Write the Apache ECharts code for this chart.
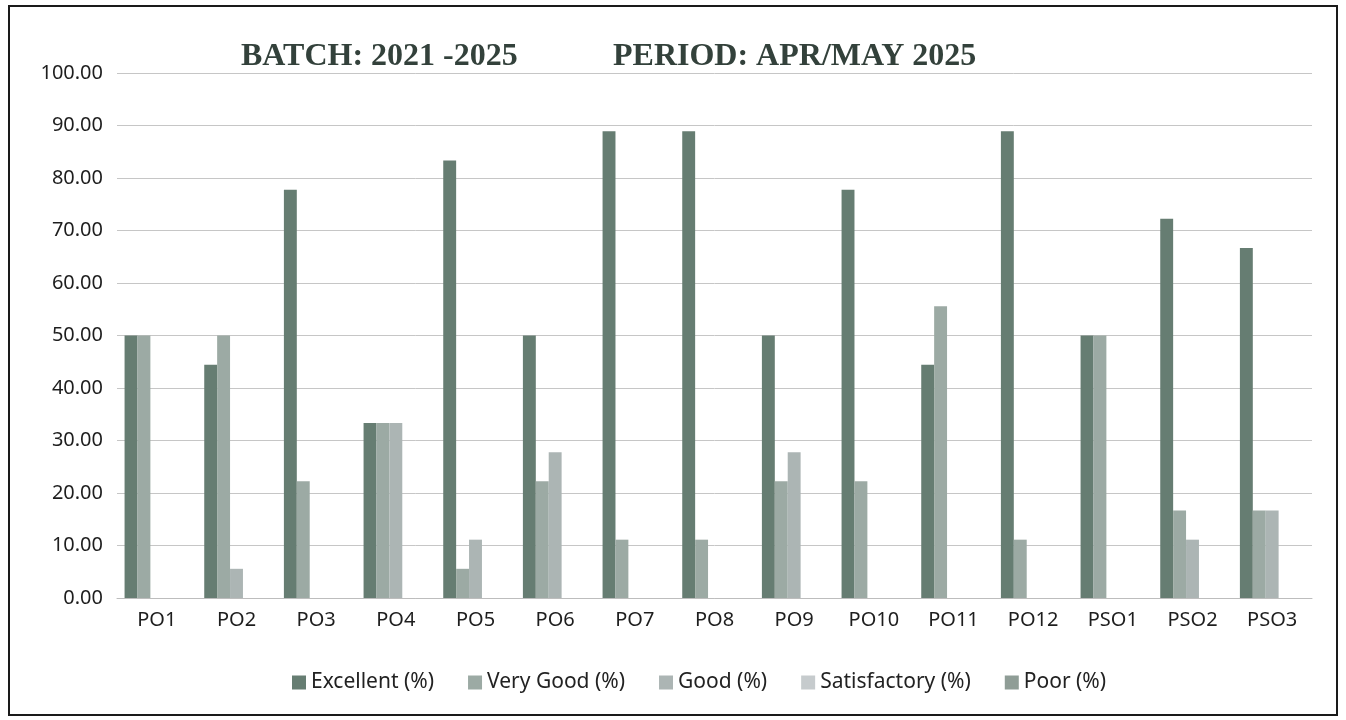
<!DOCTYPE html>
<html>
<head>
<meta charset="utf-8">
<title>PO / PSO attainment</title>
<script src="https://cdn.jsdelivr.net/npm/echarts@6/dist/echarts.min.js"></script>
<style>
  html, body { margin: 0; padding: 0; background: #fff; }
  #chart { width: 1346px; height: 720px; }
</style>
</head>
<body>
<div id="chart"></div>
<script>
// outcomes on the x axis
const categories = ["PO1", "PO2", "PO3", "PO4", "PO5", "PO6", "PO7", "PO8", "PO9", "PO10", "PO11", "PO12", "PSO1", "PSO2", "PSO3"];
const seriesNames = ["Excellent (%)", "Very Good (%)", "Good (%)", "Satisfactory (%)", "Poor (%)"];

// percentages
const excellent = [50.00, 44.44, 77.78, 33.33, 83.33, 50.00, 88.89, 88.89, 50.00, 77.78, 44.44, 88.89, 50.00, 72.22, 66.67];
const veryGood = [50.00, 50.00, 22.22, 33.33, 5.56, 22.22, 11.11, 11.11, 22.22, 22.22, 55.56, 11.11, 50.00, 16.67, 16.67];
const good = [0, 5.56, 0, 33.33, 11.11, 27.78, 0, 0, 27.78, 0, 0, 0, 0, 11.11, 16.67];
const satisfactory = [0, 0, 0, 0, 0, 0, 0, 0, 0, 0, 0, 0, 0, 0, 0];
const poor = [0, 0, 0, 0, 0, 0, 0, 0, 0, 0, 0, 0, 0, 0, 0];

const yTicks = { min: 0, max: 100, interval: 10 };

const colors = ["#667d72", "#9caaa4", "#acb5b4", "#c6cbcd", "#8f9d96"];
const allData = [excellent, veryGood, good, satisfactory, poor];

const chart = echarts.init(document.getElementById("chart"));

const titleStyle = { fontFamily: "Liberation Serif", fontWeight: "bold", fontSize: 32, color: "#33413b" };

const option = {
  backgroundColor: "#ffffff",
  animation: false,
  color: colors,
  title: [
    { text: "BATCH: 2021 -2025", left: 236, top: 36, textStyle: titleStyle },
    { text: "PERIOD: APR/MAY 2025", left: 608, top: 36, textStyle: titleStyle },
  ],
  grid: {
    left: 117,
    right: 34,
    top: 73,
    bottom: 122,
  },
  legend: {
    data: seriesNames,
    left: 287,
    top: 667,
    itemWidth: 14,
    itemHeight: 14,
    itemGap: 34,
    icon: "rect",
    textStyle: { fontFamily: "Noto Sans", fontSize: 21, color: "#222" },
  },
  xAxis: {
    type: "category",
    data: categories,
    axisTick: { show: false },
    axisLine: { lineStyle: { color: "#bdbdbd", width: 1 } },
    axisLabel: { fontFamily: "Noto Sans", fontSize: 20, color: "#1e1e1e", margin: 12 },
  },
  yAxis: {
    type: "value",
    min: yTicks.min,
    max: yTicks.max,
    interval: yTicks.interval,
    axisLine: { show: false },
    axisTick: { show: false },
    splitLine: { lineStyle: { color: "#c6c6c6", width: 1 } },
    axisLabel: {
      fontFamily: "Noto Sans",
      fontSize: 20,
      color: "#1e1e1e",
      margin: 14,
      formatter: (v) => v.toFixed(2),
    },
  },
  series: seriesNames.map((name, i) => ({
    name: name,
    type: "bar",
    data: allData[i],
    barGap: "0%",
    barCategoryGap: "19%",
    itemStyle: { color: colors[i] },
  })),
  graphic: [
    {
      type: "rect",
      shape: { x: 9, y: 6, width: 1328, height: 709 },
      style: { fill: null, stroke: "#1a1a1a", lineWidth: 2 },
      silent: true,
      z: 100,
    },
  ],
};

chart.setOption(option);
</script>
</body>
</html>
